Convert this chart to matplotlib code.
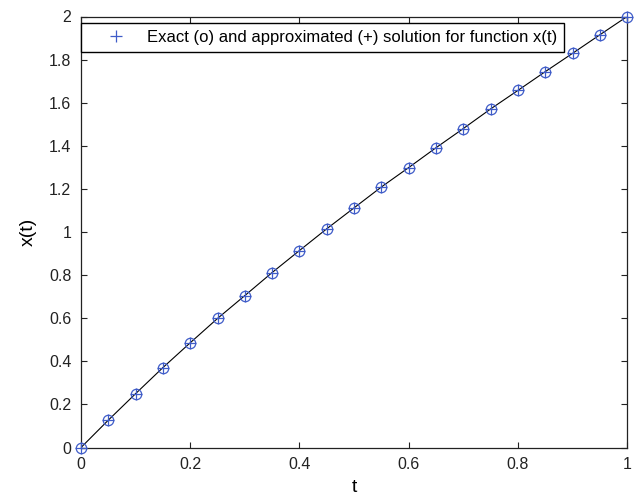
import numpy as np
import matplotlib
matplotlib.use("Agg")
import matplotlib.pyplot as plt

plt.rcParams['font.family'] = ['Liberation Sans', 'DejaVu Sans']

t = [0.0, 0.05, 0.1, 0.15, 0.2, 0.25, 0.3, 0.35, 0.4, 0.45, 0.5,
     0.55, 0.6, 0.65, 0.7, 0.75, 0.8, 0.85, 0.9, 0.95, 1.0]
x_exact = [0.0, 0.127, 0.25, 0.371, 0.486, 0.599, 0.705, 0.812, 0.914, 1.015, 1.112,
           1.209, 1.299, 1.391, 1.480, 1.571, 1.657, 1.744, 1.829, 1.915, 2.0]
x_approx = [0.0, 0.127, 0.25, 0.371, 0.486, 0.599, 0.705, 0.812, 0.914, 1.015, 1.112,
            1.209, 1.299, 1.391, 1.480, 1.571, 1.657, 1.744, 1.829, 1.915, 2.0]

blue = '#3f5cc8'

fig = plt.figure(figsize=(6.38, 5.0), dpi=100)
ax = fig.add_axes([0.127, 0.105, 0.856, 0.862])

ax.plot(t, x_exact, color='black', lw=0.8, zorder=2)
ax.plot(t, x_exact, 'o', mfc='none', mec=blue, ms=7.5, mew=0.9, zorder=3, clip_on=False)
ax.plot(t, x_approx, '+', color=blue, ms=8.5, mew=0.9, zorder=4, clip_on=False,
        label='Exact (o) and approximated (+) solution for function x(t)')

ax.set_xlim(0, 1)
ax.set_ylim(0, 2)
ax.set_xticks([0, 0.2, 0.4, 0.6, 0.8, 1])
ax.set_xticklabels(['0', '0.2', '0.4', '0.6', '0.8', '1'])
ax.set_yticks(np.arange(0, 2.01, 0.2))
ax.set_yticklabels(['0', '0.2', '0.4', '0.6', '0.8', '1', '1.2', '1.4', '1.6', '1.8', '2'])
ax.tick_params(direction='in', top=True, right=True, length=4, width=0.8,
               labelsize=11.5, pad=7, colors='#222222')
for s in ax.spines.values():
    s.set_linewidth(0.9)
    s.set_color('#222222')

ax.set_xlabel('t', fontsize=14, labelpad=5)
ax.set_ylabel('x(t)', fontsize=14, labelpad=9)

leg = ax.legend(loc='upper left', bbox_to_anchor=(0.0, 1 - 7 / 431), borderaxespad=0,
                fontsize=12, fancybox=False, framealpha=1, edgecolor='black',
                handlelength=3.4, handletextpad=0.16, borderpad=0.4)
leg.get_frame().set_linewidth(1.0)

fig.savefig('out.png', dpi=100)
